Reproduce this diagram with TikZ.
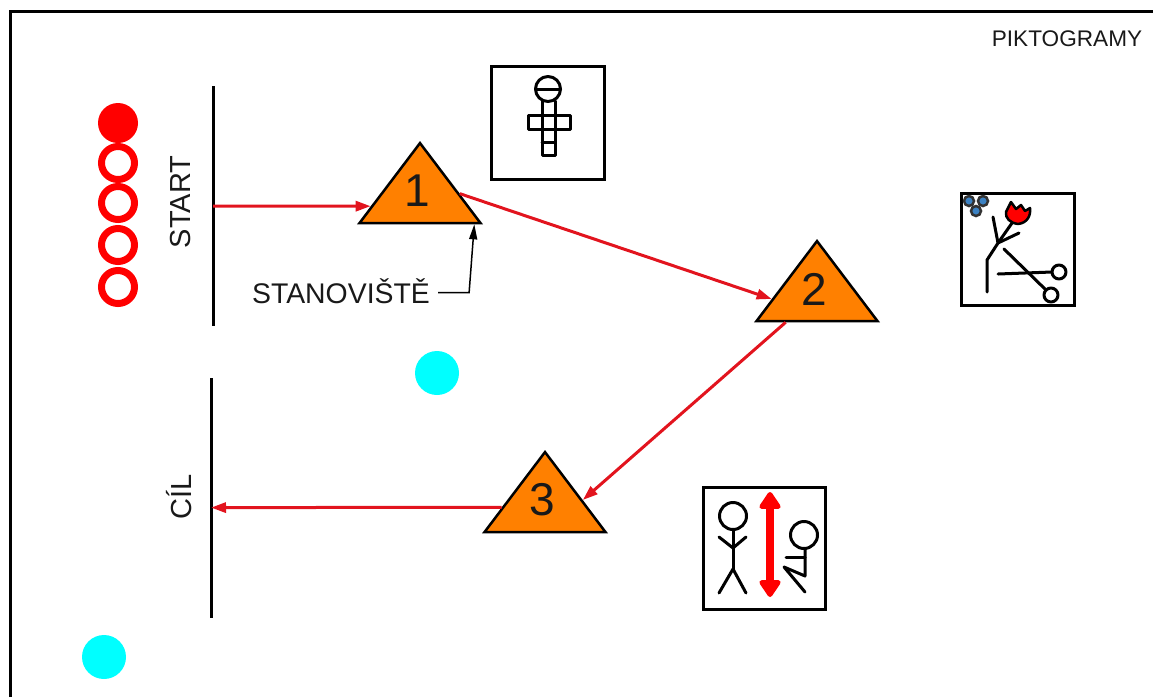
\documentclass[tikz,border=0pt]{standalone}
\usepackage{fontspec}
\setmainfont{Liberation Sans}
\usetikzlibrary{arrows.meta,shapes.geometric}
\definecolor{stanoviste}{RGB}{255,128,0}
\definecolor{trasa}{RGB}{226,20,30}
\definecolor{bobule}{RGB}{60,130,195}
\definecolor{popis}{RGB}{25,25,25}
\definecolor{tyrkys}{RGB}{0,255,255}
\tikzset{
	stan/.style={draw=black,fill=stanoviste,line width=2.5pt,line join=miter,isosceles triangle,isosceles triangle apex angle=74.2,isosceles triangle stretches,shape border rotate=90,minimum width=121pt,minimum height=80pt,inner sep=0pt,anchor=apex,label={[font=\fontsize{46}{46}\selectfont,text=popis,xshift=-3pt,yshift=2pt]center:#1}},
	trasa/.style={draw=trasa,line width=3pt,-{Triangle[length=15pt,width=10pt]}},
	pikto/.style={draw=black,line width=3pt,fill=white},
	kresba/.style={draw=black,line width=3pt,line cap=round,line join=round},
	napis/.style={text=popis,inner sep=0pt,font=\fontsize{#1}{#1}\selectfont},
	metla/.style={draw=black,line width=3pt},
	kruh/.style={circle,inner sep=0pt,minimum size=33pt,draw=red,line width=7pt,fill=white},
	bod/.style={circle,inner sep=0pt,minimum size=44pt,fill=tyrkys}
}
\begin{document}
\begin{tikzpicture}[x=1pt,y=-1pt]
	\useasboundingbox (0,0) rectangle (1153,697);
	\draw[line width=3pt] (10,697) -- (10,11) -- (1153,11);
	\node[napis=22.6] (pikt) at (1067,39) {PIKTOGRAMY};
	\node[circle,inner sep=0pt,minimum size=40pt,fill=red] (kruh0) at (118,123) {};
	\foreach \i/\y in {1/163,2/203,3/245,4/287}
		\node[kruh] (kruh\i) at (118,\y) {};
	\draw[metla] (213,86) -- coordinate[pos=0.5] (startcara) (213,326);
	\draw[metla] (211,378) -- coordinate[pos=0.54] (cilcara) (211,618);
	\node[napis=29,rotate=90] (start) at (181,202) {START};
	\node[napis=29,rotate=90] (cil) at (179,497) {CÍL};
	\node[bod] (bod1) at (437,373) {};
	\node[bod] (bod2) at (104,657) {};
	\node[stan=1] (st1) at (420,141) {};
	\node[stan=2] (st2) at (817,239) {};
	\node[stan=3] (st3) at (545,450) {};
	\draw[trasa] (startcara) -- (st1.-165);
	\draw[trasa] (st1.-1) -- (st2.-170);
	\draw[trasa] (st2.-135) -- (st3.3);
	\draw[trasa] (st3.-173) -- (cilcara);
	\node[napis=28.4,anchor=base] (stanlabel) at (341,303) {STANOVIŠTĚ};
	\draw[draw=black,line width=1.5pt,-{Triangle[length=15pt,width=8pt]}] ([xshift=8pt,yshift=-2pt]stanlabel.east) -- ++(31,0) -- (st1.-30);
	% skakaci panak
	\draw[pikto] (491,66) rectangle (604,179);
	\draw[kresba] (548,89) circle (12.5);
	\draw[kresba] (535.5,89) -- (560.5,89);
	\draw[kresba] (542,101) -- (542,155) -- (555,155) -- (555,101);
	\draw[kresba] (528,115) rectangle (570,129);
	\draw[kresba] (542,142) -- (555,142);
	% kvetina a nuzky
	\draw[pikto] (961,193) rectangle (1074,305);
	\foreach \x/\y in {969/201,983/201,976/211}
		\draw[draw=black!80,line width=2.5pt,fill=bobule] (\x,\y) circle (5);
	\draw[kresba] (987,292) -- (987,260) -- (998,243) -- (993,217);
	\draw[kresba] (998,243) -- (1019,233);
	\draw[kresba] (998,243) -- (1012,223);
	\draw[draw=black,line width=2.5pt,line join=round,fill=red] (1018,224) .. controls (1010,223) and (1005,218) .. (1006,212) -- (1011,202) -- (1016,209) -- (1021,205) -- (1025,211) -- (1030,208) .. controls (1031,216) and (1027,223) .. (1018,224) -- cycle;
	\draw[kresba] (1004,249) -- (1046,290);
	\draw[kresba] (998,274) -- (1052,272);
	\draw[kresba] (1051,295) circle (7);
	\draw[kresba] (1059,272) circle (7);
	% stoj a sed
	\draw[pikto] (703,487) rectangle (825,609);
	\draw[kresba] (733,516) circle (13.5);
	\draw[kresba] (733,530) -- (733,569);
	\draw[kresba] (719,537) -- (733,548) -- (746,537);
	\draw[kresba] (719,593) -- (733,569) -- (746,593);
	\draw[draw=red,line width=7.5pt,{Triangle[length=19pt,width=24pt,round]}-{Triangle[length=19pt,width=24pt,round]}] (770,492) -- (770,597);
	\draw[kresba] (804,535) circle (13.5);
	\draw[kresba] (805,549) -- (805,576) -- (784,567) -- (805,592);
	\draw[kresba] (786,557) -- (805,557);
\end{tikzpicture}
\end{document}
